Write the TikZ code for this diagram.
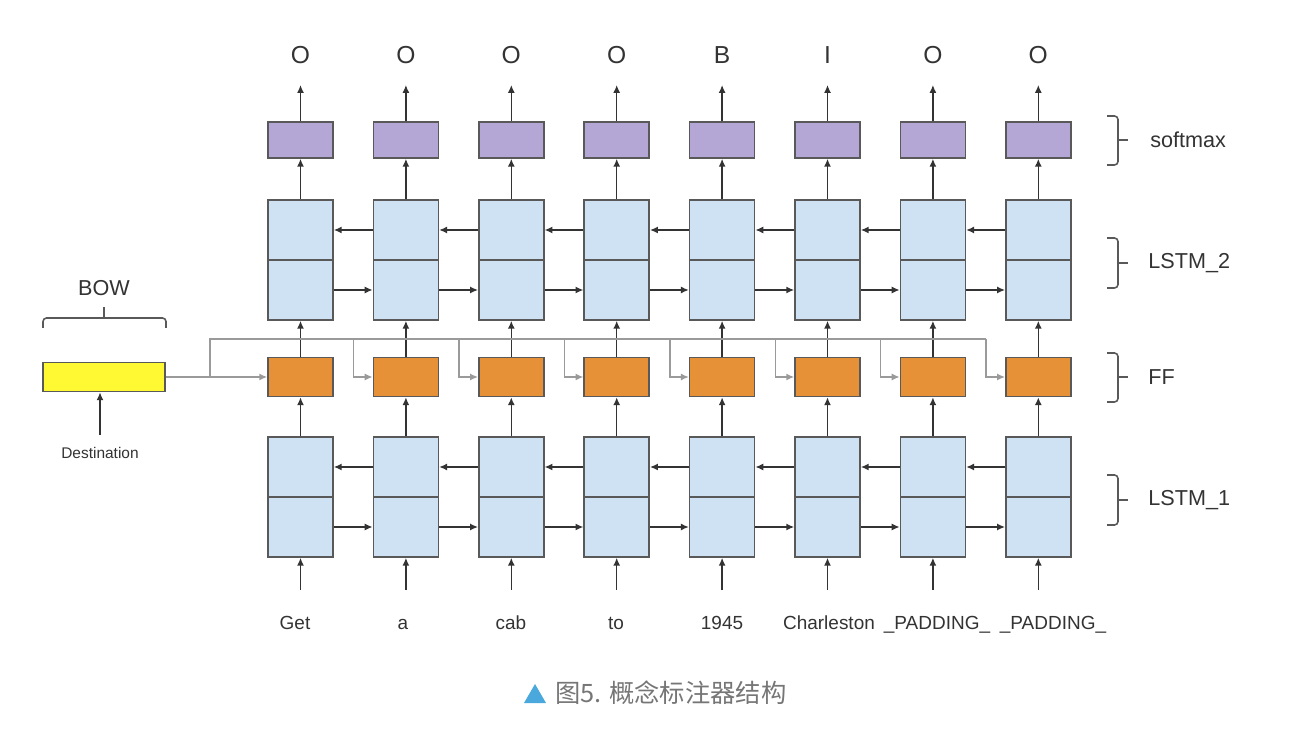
\documentclass[tikz,border=0pt]{standalone}
\usepackage{fontspec}
\setmainfont{Liberation Sans}
\newfontfamily\cjkfont{Noto Sans CJK SC}
\usetikzlibrary{arrows.meta}
\definecolor{lstmblue}{HTML}{CFE2F3}
\definecolor{smpurple}{HTML}{B4A7D6}
\definecolor{fforange}{HTML}{E69138}
\definecolor{bowyellow}{HTML}{FFF933}
\definecolor{edgegray}{HTML}{595959}
\definecolor{feedgray}{HTML}{9A9A9A}
\definecolor{textgray}{HTML}{333333}
\definecolor{capblue}{HTML}{4AA8DC}
\definecolor{capgray}{HTML}{767676}

\tikzset{
  cell/.style={draw=edgegray, line width=0.9pt, inner sep=0, minimum width=1.3cm},
  lstm/.style={cell, fill=lstmblue, minimum height=1.2cm},
  ff/.style={cell, fill=fforange, minimum height=0.78cm},
  smax/.style={cell, fill=smpurple, minimum height=0.72cm},
  bowbox/.style={cell, fill=bowyellow, minimum width=2.44cm, minimum height=0.58cm},
  wire/.style={draw=textgray, line width=0.8pt, -{Latex[length=4.5pt,width=4pt]}},
  feed/.style={draw=feedgray, line width=0.8pt},
  feedarr/.style={feed, -{Latex[length=4.5pt,width=4pt]}},
  bracket/.style={draw=edgegray, line width=0.9pt, rounded corners=2pt},
  word/.style={font=\fontsize{10.8}{12}\selectfont, text=textgray, inner sep=0, anchor=base},
  tag/.style={font=\fontsize{14}{16}\selectfont, text=textgray, inner sep=0},
  side/.style={font=\fontsize{12.3}{14}\selectfont, text=textgray, anchor=west, inner sep=0}
}

\begin{document}
\begin{tikzpicture}[x=0.02cm, y=-0.02cm]
	\useasboundingbox (0,0) rectangle (1308,742);
	% Columns: words, LSTM_1, FF, LSTM_2, softmax, tags
	\foreach \i/\w/\wx/\t [evaluate=\i as \x using 300.5+105.4*(\i-1)] in {1/Get/295/O, 2/a/403/O, 3/cab/511/O, 4/to/616/O, 5/1945/722/B, 6/Charleston/829/I, 7/\_PADDING\_/937/O, 8/\_PADDING\_/1053/O} {
		\node[word] (w\i) at (\wx,629) {\w};
		\coordinate (in\i) at (\x,590);
		\node[lstm] (l1u\i) at (\x,467) {};
		\node[lstm] (l1d\i) at (\x,527) {};
		\node[ff] (f\i) at (\x,377) {};
		\node[lstm] (l2u\i) at (\x,230) {};
		\node[lstm] (l2d\i) at (\x,290) {};
		\node[smax] (s\i) at (\x,140) {};
		\coordinate (out\i) at (\x,85);
		\node[tag] (t\i) at (\x,55) {\t};
		\draw[wire] (in\i) -- (l1d\i.south);
		\draw[wire] (l1u\i.north) -- (f\i.south);
		\draw[wire] (f\i.north) -- (l2d\i.south);
		\draw[wire] (l2u\i.north) -- (s\i.south);
		\draw[wire] (s\i.north) -- (out\i);
	}
	% Recurrent links, both directions
	\foreach \i [count=\j from 2] in {1,...,7} {
		\draw[wire] (l1u\j.west) -- (l1u\i.east);
		\draw[wire] (l1d\i.east) -- (l1d\j.west);
		\draw[wire] (l2u\j.west) -- (l2u\i.east);
		\draw[wire] (l2d\i.east) -- (l2d\j.west);
	}
	% BOW input fed into every FF
	\node[bowbox] (bow) at (104,377) {};
	\node[font=\fontsize{8.8}{10}\selectfont, text=textgray, inner sep=0] (dest) at (100,453) {Destination};
	\coordinate (destin) at (100,435);
	\draw[wire] (destin) -- (destin |- bow.south);
	\coordinate (split) at (210,377);
	\coordinate (bus) at (210,339);
	\draw[feedarr] (bow) -- (f1);
	\draw[feed] (split) -- (bus) -- ([xshift=-0.38cm]f8.west |- bus);
	\foreach \i in {2,...,8} {
		\draw[feedarr] ([xshift=-0.38cm]f\i.west |- bus) |- (f\i.west);
	}
	% Brackets and layer names
	\draw[bracket] (43,328) -- (43,318) -- (166,318) -- (166,328);
	\draw[bracket] (104,318) -- (104,307);
	\node[font=\fontsize{12.3}{14}\selectfont, text=textgray, inner sep=0] (bowname) at (104,288) {BOW};
	\draw[bracket] (1107,116) -- (1118,116) -- (1118,165) -- (1107,165);
	\draw[bracket] (1118,140) -- (1128,140);
	\node[side] (smname) at (1150,140) {softmax};
	\draw[bracket] (1107,238) -- (1118,238) -- (1118,288) -- (1107,288);
	\draw[bracket] (1118,263) -- (1128,263);
	\node[side] (l2name) at (1148,263) {LSTM\_2};
	\draw[bracket] (1107,353) -- (1118,353) -- (1118,402) -- (1107,402);
	\draw[bracket] (1118,377) -- (1128,377);
	\node[side] (ffname) at (1148,377) {FF};
	\draw[bracket] (1107,475) -- (1118,475) -- (1118,525) -- (1107,525);
	\draw[bracket] (1118,500) -- (1128,500);
	\node[side] (l1name) at (1148,500) {LSTM\_1};
	% Caption
	\fill[capblue] (524,703) -- (546,703) -- (535,684) -- cycle;
	\node[anchor=west, font=\cjkfont\fontsize{14.4}{17}\selectfont, text=capgray, inner sep=0] (caption) at (555,693) {图5. 概念标注器结构};
\end{tikzpicture}
\end{document}
